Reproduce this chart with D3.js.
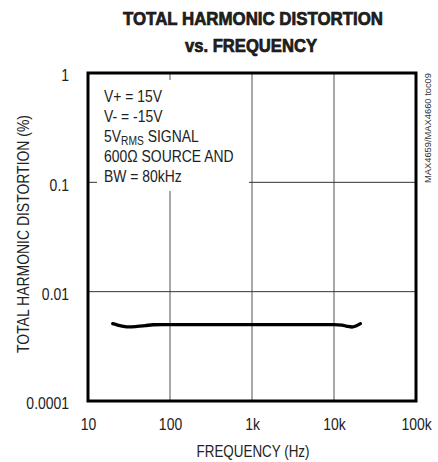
<!DOCTYPE html>
<html>
<head>
<meta charset="utf-8">
<script src="https://cdn.jsdelivr.net/npm/d3@7/dist/d3.min.js"></script>
<style>
  html, body { margin: 0; padding: 0; background: #fff; }
  svg { display: block; }
  text { font-family: "Liberation Sans Narrow", "Arial Narrow", "Liberation Sans", Arial, sans-serif; fill: #222; }
</style>
</head>
<body>
<svg id="chart" width="438" height="462"></svg>
<script>
// ---- data ----
const freqHz = [20, 23, 27, 32, 40, 50, 62, 80, 100, 200, 500, 1000, 2000, 5000, 8000, 10000, 12500, 14500, 16600, 18500, 21000];
const thdPct = [0.0051, 0.00495, 0.00482, 0.00476, 0.00482, 0.0049, 0.00498, 0.005, 0.005, 0.005, 0.005, 0.005, 0.005, 0.005, 0.005, 0.005, 0.00495, 0.00482, 0.00475, 0.00485, 0.0051];
const xTickValues = [10, 100, 1000, 10000, 100000];
const xTickLabels = ["10", "100", "1k", "10k", "100k"];
const yTickValues = [1, 0.1, 0.01, 0.001];
const yTickLabels = ["1", "0.1", "0.01", "0.0001"];
const titleLines = ["TOTAL HARMONIC DISTORTION", "vs. FREQUENCY"];
const xTitle = "FREQUENCY (Hz)";
const yTitle = "TOTAL HARMONIC DISTORTION (%)";
const sideNote = "MAX4659/MAX4660 toc09";
const conditions = ["V+ = 15V", "V- = -15V", null, "600\u03A9 SOURCE AND", "BW = 80kHz"];

// ---- layout ----
const L = 88, R = 416, T = 73, B = 401;
const NARROW = 0.82;
const svg = d3.select("#chart");
const x = d3.scaleLog().domain([10, 100000]).range([L, R]);
const y = d3.scaleLog().domain([0.001, 1]).range([B, T]);

function condense(sel, f) {
  sel.each(function () {
    const w = this.getComputedTextLength();
    d3.select(this).attr("textLength", w * f).attr("lengthAdjust", "spacingAndGlyphs");
  });
}

// gridlines
const grid = svg.append("g");
grid.selectAll("line.v").data(xTickValues.slice(1, -1)).join("line")
  .attr("x1", d => x(d)).attr("x2", d => x(d)).attr("y1", T).attr("y2", B)
  .attr("stroke", "#7a7a7a").attr("stroke-width", 1.3);
grid.selectAll("line.h").data(yTickValues.slice(1, -1)).join("line")
  .attr("x1", L).attr("x2", R).attr("y1", d => y(d)).attr("y2", d => y(d))
  .attr("stroke", "#333").attr("stroke-width", 1);

// white box behind the conditions text
svg.append("rect").attr("x", 97).attr("y", 80).attr("width", 152).attr("height", 111).attr("fill", "#fff");

// data curve
const line = d3.line().x((d, i) => x(freqHz[i])).y(d => y(d)).curve(d3.curveMonotoneX);
svg.append("path").datum(thdPct).attr("d", line)
  .attr("fill", "none").attr("stroke", "#000").attr("stroke-width", 3.3).attr("stroke-linecap", "round");

// frame
svg.append("rect").attr("x", L).attr("y", T).attr("width", R - L).attr("height", B - T)
  .attr("fill", "none").attr("stroke", "#000").attr("stroke-width", 3);

// axes (labels only)
const xAxis = d3.axisBottom(x).tickValues(xTickValues).tickFormat((d, i) => xTickLabels[i]).tickSize(0).tickPadding(0);
const gx = svg.append("g").attr("transform", `translate(0,${B})`).call(xAxis);
gx.select(".domain").remove();
gx.selectAll("text").attr("dy", null).attr("y", 29).style("font-size", "17px")
  .style("font-family", '"Liberation Sans Narrow", "Liberation Sans", Arial, sans-serif').attr("fill", "#222");
condense(gx.selectAll("text"), NARROW);

const yAxis = d3.axisLeft(y).tickValues(yTickValues).tickFormat((d, i) => yTickLabels[i]).tickSize(0).tickPadding(0);
const gy = svg.append("g").attr("transform", `translate(${L - 19},0)`).call(yAxis);
gy.select(".domain").remove();
gy.selectAll("text").attr("dy", null).attr("y", 7.7).style("font-size", "17px")
  .style("font-family", '"Liberation Sans Narrow", "Liberation Sans", Arial, sans-serif').attr("fill", "#222");
condense(gy.selectAll("text"), NARROW);

// titles
svg.append("text").attr("x", 253).attr("y", 25).attr("text-anchor", "middle")
  .attr("textLength", 260).attr("lengthAdjust", "spacingAndGlyphs")
  .style("font-size", "19px").style("font-weight", "bold").attr("fill", "#111")
  .attr("stroke", "#111").attr("stroke-width", 0.7).text(titleLines[0]);
svg.append("text").attr("x", 251).attr("y", 51.5).attr("text-anchor", "middle")
  .attr("textLength", 132).attr("lengthAdjust", "spacingAndGlyphs")
  .style("font-size", "19px").style("font-weight", "bold").attr("fill", "#111")
  .attr("stroke", "#111").attr("stroke-width", 0.7).text(titleLines[1]);

svg.append("text").attr("x", 253).attr("y", 456.5).attr("text-anchor", "middle")
  .attr("textLength", 113).attr("lengthAdjust", "spacingAndGlyphs")
  .style("font-size", "17px").text(xTitle);

svg.append("text").attr("transform", "translate(29,234) rotate(-90)").attr("text-anchor", "middle")
  .attr("textLength", 238).attr("lengthAdjust", "spacingAndGlyphs")
  .style("font-size", "17px").text(yTitle);

svg.append("text").attr("transform", "translate(431,128) rotate(-90)").attr("text-anchor", "middle")
  .attr("textLength", 110).attr("lengthAdjust", "spacingAndGlyphs")
  .style("font-size", "9px").style("fill", "#333").text(sideNote);

// conditions text (condensed horizontally)
const baseX = 104, baseY = 101.7, step = 20.2;
const cond = svg.append("g").attr("transform", `translate(${baseX},0) scale(${NARROW},1)`).style("font-size", "17px");
conditions.forEach((s, i) => {
  const t = cond.append("text").attr("x", 0).attr("y", baseY + i * step);
  if (s !== null) { t.text(s); return; }
  t.append("tspan").text("5V");
  t.append("tspan").attr("dy", 3).style("font-size", "12.5px").text("RMS");
  t.append("tspan").attr("dy", -3).text(" SIGNAL");
});
</script>
</body>
</html>
